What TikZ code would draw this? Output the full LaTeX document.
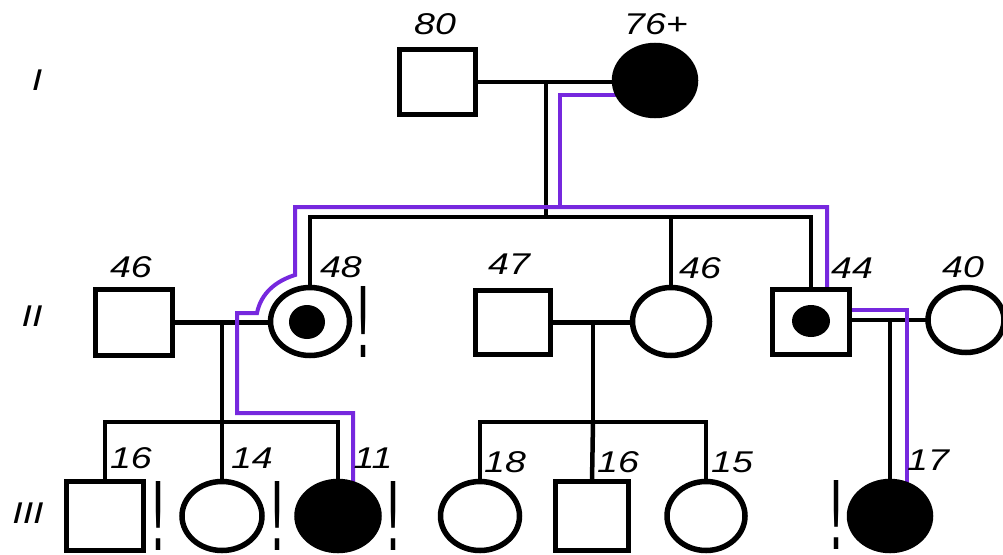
\documentclass[tikz,border=0pt]{standalone}
\usepackage{fontspec}
\setmainfont{Liberation Sans}
\newfontfamily\markfont{DejaVu Sans}
\usetikzlibrary{shapes.geometric,backgrounds}
\definecolor{carrier}{RGB}{118,40,222}
\newcommand{\agewide}[1]{\scalebox{1.25}[1]{#1}}
\newcommand{\exmark}[1]{\resizebox{18pt}{#1}{\markfont !}}
\begin{document}
\begin{tikzpicture}[x=1pt,y=-1pt,
  ind/.style={draw=black,line width=5.5pt,fill=white,inner sep=0pt,outer sep=0pt},
  sq/.style={ind,rectangle},
  circ/.style={ind,ellipse},
  aff/.style={fill=black},
  dotmark/.style={ellipse,fill=black,draw=none,inner sep=0pt},
  lbl/.style={font=\fontsize{30}{30}\selectfont\itshape,inner sep=0pt},
  excl/.style={inner sep=0pt},
  kin/.style={line width=4.5pt,black},
  carrierline/.style={line width=4pt,carrier,line join=miter}]
\useasboundingbox (0,0) rectangle (1003,554);
% generation labels
\node[lbl] (gI) at (37,80) {\agewide{I}};
\node[lbl] (gII) at (32,316) {\agewide{II}};
\node[lbl] (gIII) at (28,513) {\agewide{III}};
% generation I
\node[sq,minimum width=76pt,minimum height=65pt] (i1) at (437.5,82) {};
\node[circ,aff,minimum width=81pt,minimum height=70pt] (i2) at (655,80.5) {};
% generation II
\node[sq,minimum width=77pt,minimum height=66pt] (ii1) at (134,322.5) {};
\node[circ,minimum width=79pt,minimum height=68pt] (ii2) at (310,321.5) {};
\node[dotmark,minimum width=36pt,minimum height=34pt] (ii2d) at (307,322) {};
\node[sq,minimum width=75pt,minimum height=64pt] (ii3) at (513,322.5) {};
\node[circ,minimum width=77pt,minimum height=68pt] (ii4) at (671,321.5) {};
\node[sq,minimum width=77pt,minimum height=65pt] (ii5) at (811,322) {};
\node[dotmark,minimum width=38pt,minimum height=32pt] (ii5d) at (811,321) {};
\node[circ,minimum width=76pt,minimum height=65pt] (ii6) at (966,320) {};
% generation III
\node[sq,minimum width=77pt,minimum height=69pt] (iii1) at (105,516) {};
\node[circ,minimum width=80pt,minimum height=69pt] (iii2) at (222,516) {};
\node[circ,aff,minimum width=82pt,minimum height=69pt] (iii3) at (338,516) {};
\node[circ,minimum width=79pt,minimum height=69pt] (iii4) at (480,516) {};
\node[sq,minimum width=73pt,minimum height=69pt] (iii5) at (592,516) {};
\node[circ,minimum width=78pt,minimum height=69pt] (iii6) at (706,516) {};
\node[circ,aff,minimum width=81pt,minimum height=69pt] (iii7) at (890,516) {};
% ages
\node[lbl] (a80) at (435,24) {\agewide{80}};
\node[lbl] (a76) at (656,24) {\agewide{76+}};
\node[lbl] (a46a) at (131,267) {\agewide{46}};
\node[lbl] (a48) at (341,267) {\agewide{48}};
\node[lbl] (a47) at (509,264) {\agewide{47}};
\node[lbl] (a46b) at (700,268) {\agewide{46}};
\node[lbl] (a44) at (852,268) {\agewide{44}};
\node[lbl] (a40) at (963,267) {\agewide{40}};
\node[lbl] (a16a) at (131,458) {\agewide{16}};
\node[lbl] (a14) at (252,458) {\agewide{14}};
\node[lbl] (a11) at (373,458) {\agewide{11}};
\node[lbl] (a18) at (505,462) {\agewide{18}};
\node[lbl] (a16b) at (618,462) {\agewide{16}};
\node[lbl] (a15) at (732,462) {\agewide{15}};
\node[lbl] (a17) at (928,460) {\agewide{17}};
% examination marks
\node[excl] (e1) at (363.5,322) {\exmark{71pt}};
\node[excl] (e2) at (158.5,516) {\exmark{69pt}};
\node[excl] (e3) at (277.5,516) {\exmark{69pt}};
\node[excl] (e4) at (393.5,516) {\exmark{69pt}};
\node[excl] (e5) at (836,515) {\exmark{69pt}};
% helper coordinates
\coordinate (m1) at (546,82);
\coordinate (s2) at (546,217);
\coordinate (m2) at (222,322);
\coordinate (s3a) at (222,422);
\coordinate (m3) at (593,322);
\coordinate (s3b) at (593,422);
\coordinate (m4) at (890,320);
\begin{pgfonlayer}{background}
% marriages
\draw[kin] (i1.east) -- (i1.east -| i2.center);
\draw[kin] (ii1.east) -- (ii1.east -| ii2.center);
\draw[kin] (ii3.east) -- (ii3.east -| ii4.center);
\draw[kin] (ii5.center |- m4) -- (ii6.center |- m4);
% sibship II
\draw[kin] (m1) -- (s2);
\draw[kin] (ii2.north) -- (ii2.north |- s2) -- (ii5.north |- s2) -- (ii5.north);
\draw[kin] (ii4.north |- s2) -- (ii4.north);
% sibship III left
\draw[kin] (m2) -- (s3a);
\draw[kin] (iii1.north) -- (iii1.north |- s3a) -- (iii3.north |- s3a) -- (iii3.north);
\draw[kin] (s3a) -- (iii2.north);
% sibship III middle
\draw[kin] (m3) -- (s3b);
\draw[kin] (iii4.north) -- (iii4.north |- s3b) -- (iii6.north |- s3b) -- (iii6.north);
\draw[kin] (s3b) -- (iii5.north);
% single child
\draw[kin] (m4) -- (iii7.north);
% carrier path
\draw[carrierline] (i2.center |- 0,95) -- (560,95) -- (560,207);
\draw[carrierline] (ii5.north -| 827,0) -- (827,207) -- (295,207) -- (295,275)
  .. controls (276,281) and (261,293) .. (257,313) -- (237,313) -- (237,413)
  -- (353,413) -- (iii3.center -| 353,0);
\draw[carrierline] (ii5.center |- 0,310) -- (907,310) -- (iii7.center -| 907,0);
\end{pgfonlayer}
\end{tikzpicture}
\end{document}
